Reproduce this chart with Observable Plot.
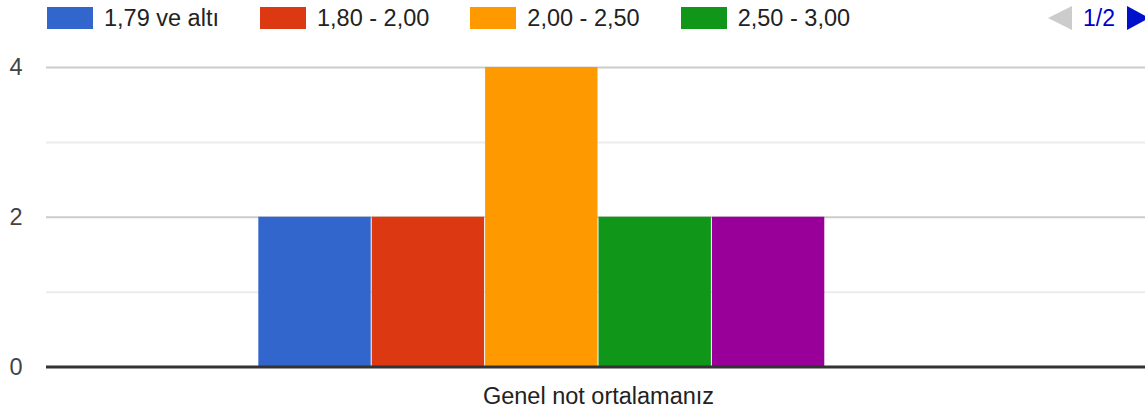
<!DOCTYPE html>
<html>
<head>
<meta charset="utf-8">
<script src="https://cdn.jsdelivr.net/npm/d3@7"></script>
<script src="https://cdn.jsdelivr.net/npm/@observablehq/plot@0.6"></script>
<style>
  html, body { margin: 0; padding: 0; background: #fff; overflow: hidden; width: 1145px; height: 414px; }
  body { font-family: "Liberation Sans", Arial, sans-serif; }
  #legend { position: relative; height: 40px; width: 1145px; }
  #items { position: absolute; left: 47px; top: 7px; display: flex; gap: 41px; }
  .item { display: flex; align-items: center; height: 22px; font-size: 23.5px; color: #222; white-space: nowrap; }
  .sw { width: 46px; height: 22px; margin-right: 11px; }
  #pager { position: absolute; left: 1048px; top: 5px; display: flex; align-items: center; height: 26px; }
  .tri-l { width: 0; height: 0; border-top: 12.5px solid transparent; border-bottom: 12.5px solid transparent; border-right: 24px solid #cccccc; }
  .tri-r { width: 0; height: 0; border-top: 12.5px solid transparent; border-bottom: 12.5px solid transparent; border-left: 22px solid #0011cc; }
  .pg { font-size: 23px; color: #0000cc; margin: 0 12px 0 11px; }
  #chart { width: 1145px; height: 374px; overflow: hidden; }
  #chart svg { display: block; max-width: none !important; }
</style>
</head>
<body>
<div id="legend"><div id="items"></div><div id="pager"></div></div>
<div id="chart"></div>
<script>
const category = "Genel not ortalamanız";
const series = ["1,79 ve altı", "1,80 - 2,00", "2,00 - 2,50", "2,50 - 3,00", "3,00 - 3,50", "3,50 - 4,00"];
const counts = [2, 2, 4, 2, 2, 0];
const colors = ["#3366cc", "#dc3912", "#ff9900", "#109618", "#990099", "#0099c6"];
const legendPageSize = 4;
const legendPageText = "1/2";
const yMajorTicks = [0, 2, 4];
const yMinorTicks = [1, 3];
const yMax = 4;

const data = series.map((s, i) => ({category, series: s, count: counts[i]}));

// Legend (first page)
const items = document.getElementById("items");
series.slice(0, legendPageSize).forEach((s, i) => {
  const it = document.createElement("div");
  it.className = "item";
  const sw = document.createElement("div");
  sw.className = "sw";
  sw.style.background = colors[i];
  const tx = document.createElement("span");
  tx.textContent = s;
  it.appendChild(sw);
  it.appendChild(tx);
  items.appendChild(it);
});
const pager = document.getElementById("pager");
const tl = document.createElement("div"); tl.className = "tri-l";
const pg = document.createElement("span"); pg.className = "pg"; pg.textContent = legendPageText;
const tr = document.createElement("div"); tr.className = "tri-r";
pager.appendChild(tl); pager.appendChild(pg); pager.appendChild(tr);

const chart = Plot.plot({
  width: 1150,
  height: 374,
  marginLeft: 46,
  marginRight: 0,
  marginTop: 27,
  marginBottom: 47.5,
  style: {fontFamily: "'Liberation Sans', Arial, sans-serif", fontSize: "23.5px", background: "transparent", overflow: "visible", maxWidth: "none"},
  fx: {domain: [category], padding: 0, label: null, round: false},
  x: {domain: series, paddingInner: 0, paddingOuter: 1.868, axis: null, round: false},
  y: {domain: [0, yMax], label: null},
  color: {domain: series, range: colors},
  marks: [
    Plot.ruleY(yMinorTicks, {stroke: "#ebebeb", strokeWidth: 2}),
    Plot.ruleY(yMajorTicks.filter(d => d !== 0), {stroke: "#cccccc", strokeWidth: 2}),
    Plot.barY(data, {fx: "category", x: "series", y: "count", fill: "series", insetLeft: 0.5, insetRight: 0.5}),
    Plot.ruleY([0], {stroke: "#333333", strokeWidth: 3}),
    Plot.axisY({ticks: yMajorTicks, tickSize: 0, tickPadding: 24, fill: "#444444", label: null, tickFormat: d => String(d)}),
    Plot.axisFx({anchor: "bottom", tickSize: 0, tickPadding: 20, fill: "#222222", label: null})
  ]
});
document.getElementById("chart").appendChild(chart);
</script>
</body>
</html>
